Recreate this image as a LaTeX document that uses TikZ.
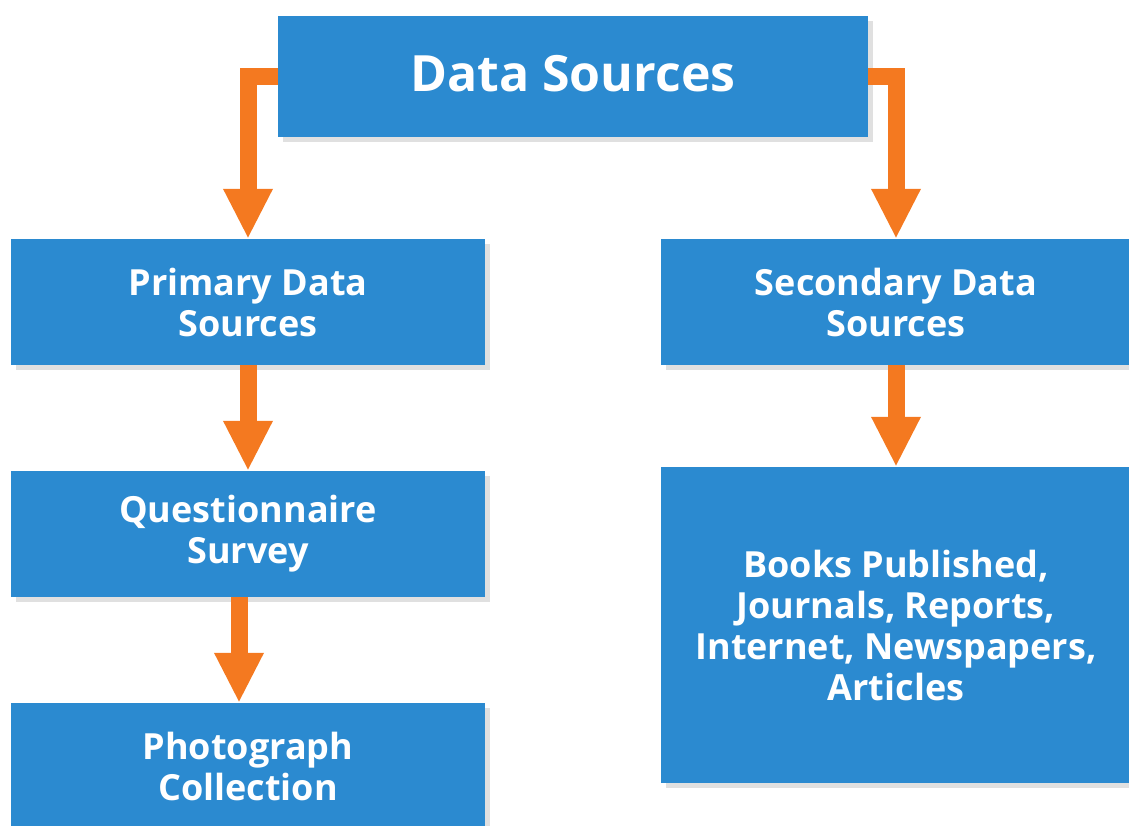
\documentclass[tikz,border=0pt]{standalone}
\usepackage{fontspec}
\setmainfont{Open Sans}
\usetikzlibrary{arrows.meta,shadows}

\definecolor{boxblue}{RGB}{43,138,208}
\definecolor{flowor}{RGB}{244,121,32}

\tikzset{
  srcbox/.style={fill=boxblue, text=white, align=center, inner sep=0pt,
    font=\bfseries\fontsize{36}{41}\selectfont,
    drop shadow={shadow xshift=5pt, shadow yshift=-5pt, fill=black!12, opacity=1}},
  flow/.style={draw=flowor, line width=17pt, line join=miter,
    -{Triangle[width=46pt,length=50pt]}}
}

\begin{document}
\begin{tikzpicture}[x=1pt,y=-1pt]

\useasboundingbox (0,0) rectangle (1129,825);
\clip (0,0) rectangle (1129,825);

% boxes
\node[srcbox, minimum width=590pt, minimum height=121pt,
  font=\bfseries\fontsize{50}{56}\selectfont] (top) at (573,76.5) {\raisebox{6pt}{Data Sources}};

\node[srcbox, minimum width=474pt, minimum height=126pt] (primary) at (248,302) {Primary Data\\Sources};
\node[srcbox, minimum width=470pt, minimum height=126pt] (secondary) at (896,302) {Secondary Data\\Sources};

\node[srcbox, minimum width=474pt, minimum height=126pt] (quest) at (248,534) {Questionnaire\\Survey};
\node[srcbox, minimum width=474pt, minimum height=127pt] (photo) at (248,766.5) {Photograph\\Collection};

\node[srcbox, minimum width=470pt, minimum height=316pt] (books) at (896,625)
  {Books Published,\\Journals, Reports,\\Internet, Newspapers,\\Articles};

% arrows
\draw[flow] (top.west) -| (primary.north);
\draw[flow] (top.east) -| (secondary.north);
\draw[flow] (primary) -- (quest);
\draw[flow] ([xshift=-9pt]quest.south) -- ([xshift=-9pt]photo.north);
\draw[flow] (secondary) -- (books);

\end{tikzpicture}
\end{document}
